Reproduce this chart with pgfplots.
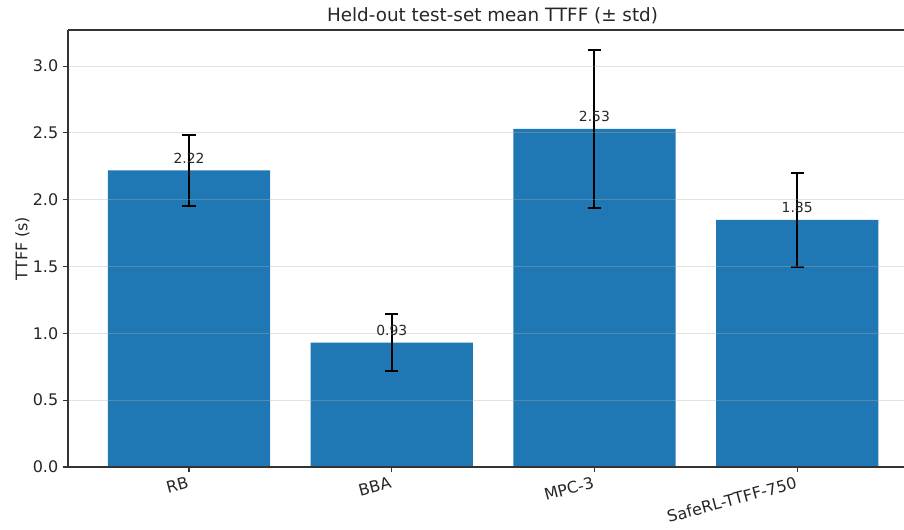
\documentclass[border=0pt]{standalone}
\usepackage{fontspec}
\setmainfont{DejaVu Sans}
\usepackage{pgfplots}
\pgfplotsset{compat=1.18}
\definecolor{barblue}{HTML}{1F77B4}
\definecolor{gridgray}{HTML}{B0B0B0}
\begin{document}
\begin{tikzpicture}
\begin{axis}[
  /pgf/number format/assume math mode=true,
  scale only axis,
  width=601.92pt, height=314.64pt,
  xmin=-0.597, xmax=3.527,
  ymin=0, ymax=3.27,
  axis y line*=left,
  y axis line style={-},
  axis line style={line width=0.8pt, black!80},
  xtick={0,1,2,3},
  xticklabels={RB,BBA,MPC-3,SafeRL-TTFF-750},
  xtick pos=bottom,
  ytick={0,0.5,1,1.5,2,2.5,3},
  yticklabel style={/pgf/number format/.cd, fixed, fixed zerofill, precision=1},
  ytick pos=left,
  tick align=outside,
  major tick length=3.5pt,
  tick style={line width=0.8pt, black!80},
  ticklabel style={font=\fontsize{11.5}{13}\selectfont, text=black!85},
  xticklabel style={rotate=15, anchor=north east, inner sep=2.5pt},
  ylabel={TTFF (s)},
  ylabel shift=-4.5pt,
  ylabel style={font=\fontsize{11.5}{13}\selectfont, text=black!85},
  title={Held-out test-set mean TTFF (± std)},
  title style={font=\fontsize{13.2}{15}\selectfont, text=black!85, xshift=4.7pt, yshift=-5pt},
  ymajorgrids,
  major grid style={color=gridgray, opacity=0.35, line width=0.8pt},
  axis on top,
  ybar, bar width=0.8,
  nodes near coords={\pgfmathprintnumber[fixed,fixed zerofill,precision=2]{\pgfplotspointmeta}},
  nodes near coords style={font=\fontsize{10}{12}\selectfont, text=black!85, anchor=south, inner sep=0pt, yshift=5pt},
]
\addplot[fill=barblue, draw=none,
  error bars/.cd, y dir=both, y explicit,
  error bar style={line width=1.44pt, black},
  error mark options={rotate=90, mark size=4.7pt, line width=1.44pt, black}]
  coordinates {
  (0,2.22) +- (0,0.265)
  (1,0.93) +- (0,0.213)
  (2,2.53) +- (0,0.59)
  (3,1.85) +- (0,0.35)
};
\end{axis}
\pgfresetboundingbox
\path[use as bounding box] ([shift={(-48.96pt,-44.64pt)}]current axis.south west) rectangle ([shift={(0pt,21.6pt)}]current axis.north east);
\end{tikzpicture}
\end{document}
